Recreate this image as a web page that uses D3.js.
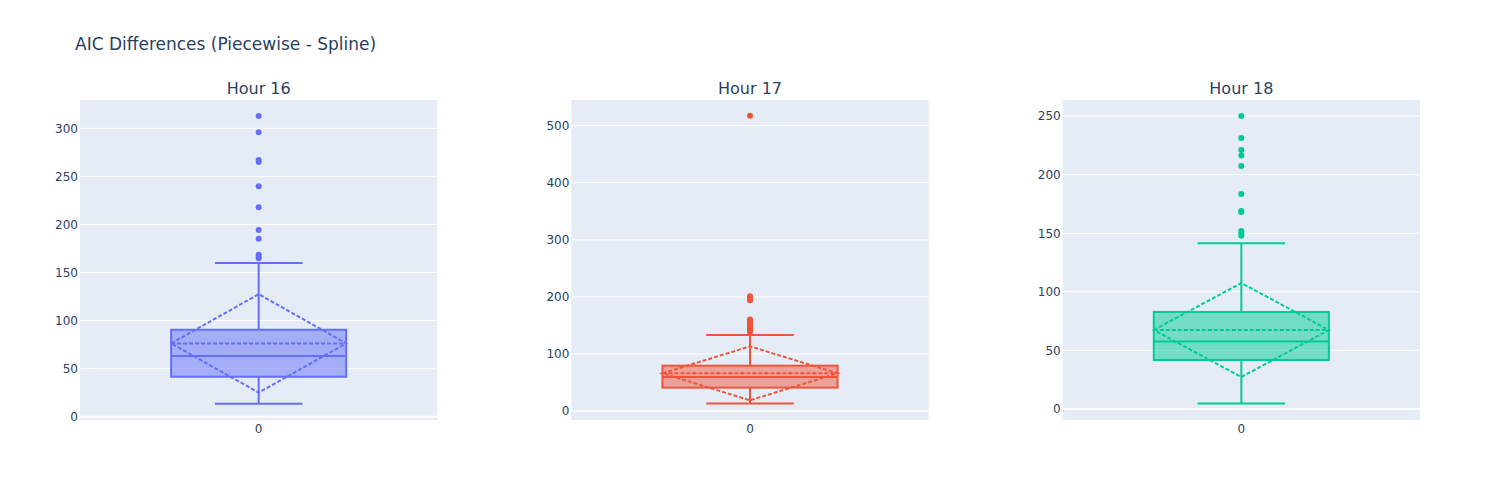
<!DOCTYPE html>
<html>
<head>
<meta charset="utf-8">
<script src="https://cdn.jsdelivr.net/npm/d3@7"></script>
<style>
  html, body { margin: 0; padding: 0; background: #fff; }
  svg { display: block; font-family: "DejaVu Sans", Verdana, sans-serif; }
</style>
</head>
<body>
<div id="chart"></div>
<script>
// ---- data ----
const panelTitles = ["Hour 16", "Hour 17", "Hour 18"];
const colors = ["#636efa", "#EF553B", "#00cc96"];
const q1 = [41.6, 40.9, 41.8];
const medians = [63.1, 59.6, 57.5];
const q3 = [90.5, 79.4, 82.8];
const lowerFences = [13.5, 12.9, 4.6];
const upperFences = [160, 133.2, 141.4];
const means = [76.3, 66.0, 67.4];
const sds = [51.2, 47.3, 40.1];
const outliers16 = [312.9, 295.9, 267, 265, 239.7, 217.8, 194.2, 185.2, 168.6, 166.5, 164.8];
const outliers17 = [517.5, 201, 199, 196, 194, 160.5, 158, 155, 152, 150, 147, 145, 143, 141, 139];
const outliers18 = [250, 231.2, 221, 216.4, 207.3, 183.4, 168.9, 168.2, 151.8, 150, 147.9];
const outliers = [outliers16, outliers17, outliers18];
const yRanges = [[-3.4, 329.5], [-15.8, 545], [-9.4, 263.7]];
const yTicks = [[0, 50, 100, 150, 200, 250, 300], [0, 100, 200, 300, 400, 500], [0, 50, 100, 150, 200, 250]];
const xCategory = ["0"];
const chartTitle = "AIC Differences (Piecewise - Spline)";

// ---- layout ----
const W = 1500, H = 500;
const plotL = 80, plotR = 1420, plotT = 100, plotB = 420;
const domains = [[0, 0.26667], [0.36667, 0.63333], [0.73333, 1]];
const textColor = "#2a3f5f";
const bg = "#E5ECF6";
const font = "\"DejaVu Sans\", Verdana, sans-serif";

const svg = d3.select("#chart").append("svg").attr("width", W).attr("height", H);

svg.append("text").attr("x", 75).attr("y", 50)
  .attr("fill", textColor).attr("font-size", 17).text(chartTitle);

panelTitles.forEach((title, i) => {
  const x0 = plotL + domains[i][0] * (plotR - plotL);
  const x1 = plotL + domains[i][1] * (plotR - plotL);
  const x = d3.scaleLinear().domain([-0.5, 0.5]).range([x0, x1]);
  const y = d3.scaleLinear().domain(yRanges[i]).range([plotB, plotT]);
  const g = svg.append("g");
  const col = colors[i];

  g.append("rect").attr("x", x0).attr("y", plotT).attr("width", x1 - x0).attr("height", plotB - plotT).attr("fill", bg);

  // grid
  yTicks[i].forEach(t => {
    g.append("line").attr("x1", x0).attr("x2", x1).attr("y1", y(t)).attr("y2", y(t))
      .attr("stroke", "#fff").attr("stroke-width", t === 0 ? 2 : 1);
  });

  // y axis labels
  const yAxis = d3.axisLeft(y).tickValues(yTicks[i]).tickSize(0).tickPadding(2);
  const ya = g.append("g").attr("transform", `translate(${x0},0)`).call(yAxis);
  ya.select(".domain").remove();
  ya.selectAll("text").attr("fill", textColor).attr("font-size", 12).attr("font-family", font);

  // x axis label
  const xb = d3.scaleBand().domain(xCategory).range([x0, x1]);
  const xAxis = d3.axisBottom(xb).tickSize(0).tickPadding(4);
  const xa = g.append("g").attr("transform", `translate(0,${plotB})`).call(xAxis);
  xa.select(".domain").remove();
  xa.selectAll("text").attr("fill", textColor).attr("font-size", 12).attr("font-family", font);

  // subplot title
  svg.append("text").attr("x", (x0 + x1) / 2).attr("y", 94).attr("text-anchor", "middle")
    .attr("fill", textColor).attr("font-size", 16).text(title);

  const bw = 0.245, ww = 0.1225;
  // whiskers
  g.append("line").attr("x1", x(0)).attr("x2", x(0)).attr("y1", y(q3[i])).attr("y2", y(upperFences[i]))
    .attr("stroke", col).attr("stroke-width", 2);
  g.append("line").attr("x1", x(0)).attr("x2", x(0)).attr("y1", y(q1[i])).attr("y2", y(lowerFences[i]))
    .attr("stroke", col).attr("stroke-width", 2);
  [upperFences[i], lowerFences[i]].forEach(v => {
    g.append("line").attr("x1", x(-ww)).attr("x2", x(ww)).attr("y1", y(v)).attr("y2", y(v))
      .attr("stroke", col).attr("stroke-width", 2);
  });
  // box
  g.append("rect").attr("x", x(-bw)).attr("y", y(q3[i])).attr("width", x(bw) - x(-bw))
    .attr("height", y(q1[i]) - y(q3[i]))
    .attr("fill", col).attr("fill-opacity", 0.5).attr("stroke", col).attr("stroke-width", 2);
  // median
  g.append("line").attr("x1", x(-bw)).attr("x2", x(bw)).attr("y1", y(medians[i])).attr("y2", y(medians[i]))
    .attr("stroke", col).attr("stroke-width", 2);
  // mean + sd diamond
  g.append("line").attr("x1", x(-bw)).attr("x2", x(bw)).attr("y1", y(means[i])).attr("y2", y(means[i]))
    .attr("stroke", col).attr("stroke-width", 2).attr("stroke-dasharray", "4,2");
  const dpts = [[-bw, means[i]], [0, means[i] + sds[i]], [bw, means[i]], [0, means[i] - sds[i]]];
  g.append("path").attr("d", d3.line().x(d => x(d[0])).y(d => y(d[1])).curve(d3.curveLinearClosed)(dpts))
    .attr("fill", "none").attr("stroke", col).attr("stroke-width", 2).attr("stroke-dasharray", "4,2");

  // outliers
  g.selectAll("circle.o").data(outliers[i]).enter().append("circle")
    .attr("cx", x(0)).attr("cy", d => y(d)).attr("r", 3).attr("fill", col);
});
</script>
</body>
</html>
